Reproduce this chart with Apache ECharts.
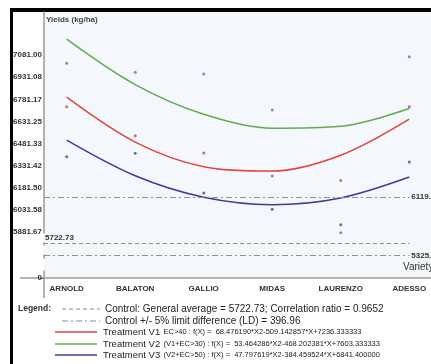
<!DOCTYPE html>
<html>
<head>
<meta charset="utf-8">
<script src="https://cdn.jsdelivr.net/npm/echarts@6.0.0/dist/echarts.min.js"></script>
<style>
  html, body { margin: 0; padding: 0; background: #fff; }
  #chart { width: 431px; height: 364px; }
</style>
</head>
<body>
<div id="chart"></div>
<script>
// data
const categories = ['ARNOLD', 'BALATON', 'GALLIO', 'MIDAS', 'LAURENZO', 'ADESSO'];
const yTicks = [0, 5881.67, 6031.58, 6181.50, 6331.42, 6481.33, 6631.25, 6781.17, 6931.08, 7081.00];

// fitted curves (value at each variety)
const curveV1 = [6795.67, 6491.95, 6325.19, 6295.38, 6402.52, 6646.62];
const curveV2 = [7188.60, 6880.79, 6679.90, 6585.95, 6598.93, 6718.83];
const curveV3 = [6504.74, 6263.67, 6118.20, 6068.32, 6114.04, 6255.36];

// observed yields
const obsV1 = [6731, 6535, 6418, 6262, 6231, 6731];
const obsV2 = [7025, 6964, 6952, 6709, 5879, 7069];
const obsV3 = [6393, 6416, 6148, 6037, 5933, 6357];

const controlAvg = 5722.73;
const controlLimits = [6119.69, 5325.77];

const legendRows = [
  ['Control: General average = 5722.73; Correlation ratio = 0.9652', ''],
  ['Control +/- 5% limit difference (LD) = 396.96', ''],
  ['Treatment V1', 'EC>40 : f(X) =  68.476190*X2-509.142857*X+7236.333333'],
  ['Treatment V2', '(V1+EC>30) : f(X) =  53.464286*X2-468.202381*X+7603.333333'],
  ['Treatment V3', '(V2+EC>50) : f(X) =  47.797619*X2-384.459524*X+6841.400000']
];

const FONT = '"Liberation Sans", Arial, sans-serif';
const colV1 = '#e0453f', colV2 = '#62aa4c', colV3 = '#3a3d9c';
const gridX = 0.669;   // left edge of plot in x units

let toXY = (arr) => arr.map((v, i) => [i + 1, v]);
let lbl = (v) => v.toFixed(2);

var myChart = echarts.init(document.getElementById('chart'));

// legend drawn as graphic
let legendEls = [];
let rowY = [309, 321, 332, 344, 355];
let rowCol = ['#8a8a8a', '#8a8a8a', colV1, colV2, colV3];
let rowDash = [[4, 3], [6, 3, 2, 3], null, null, null];
legendRows.forEach((r, i) => {
    let x1 = i < 2 ? 62 : 55, x2 = i < 2 ? 100 : 97;
    legendEls.push({
        type: 'line', shape: {x1: x1, y1: rowY[i], x2: x2, y2: rowY[i]},
        style: {stroke: rowCol[i], lineWidth: i < 2 ? 1 : 1.5, lineDash: rowDash[i]}
    });
    legendEls.push({
        type: 'text', x: i < 2 ? 105 : 103, y: rowY[i],
        style: {
            text: r[1] ? '{a|' + r[0] + '} {b|' + r[1] + '}' : '{c|' + r[0] + '}',
            verticalAlign: 'middle',
            rich: {
                a: {fontSize: 9.5, fontFamily: FONT, fill: '#222'},
                b: {fontSize: 7.5, fontFamily: FONT, fill: '#222'},
                c: {fontSize: 10, fontFamily: FONT, fill: '#222'}
            }
        }
    });
});

let option = {
    animation: false,
    grid: {
        left: 44, top: 12, right: 0, bottom: 86,
        show: true, backgroundColor: '#f4f7fb', borderWidth: 0
    },
    xAxis: {
        type: 'value', min: gridX, max: 6.317,
        splitLine: {show: false},
        axisLine: {lineStyle: {color: '#9a9a9a', width: 1.5}},
        axisTick: {show: false},
        axisLabel: {
            customValues: [1, 2, 3, 4, 5, 6],
            formatter: (v) => categories[Math.round(v) - 1] || '',
            fontFamily: FONT, fontSize: 8, fontWeight: 'bold', color: '#333', margin: 7
        }
    },
    yAxis: {
        type: 'value', min: 0, max: 7372,
        breaks: [
            {start: 50, end: 5310, gap: 85},
            {start: 5335, end: 5715, gap: 66},
            {start: 5730, end: 5875, gap: 62}
        ],
        breakArea: {show: false},
        splitLine: {show: false},
        axisLine: {show: true, lineStyle: {color: '#9a9a9a', width: 1.5}},
        axisTick: {show: true, customValues: [0], length: 4, lineStyle: {color: '#777'}},
        axisLabel: {
            customValues: yTicks,
            formatter: (v) => v === 0 ? '0' : lbl(v),
            fontFamily: FONT, fontSize: 8, fontWeight: 'bold', color: '#333', margin: 2
        }
    },
    series: [
        {name: 'Treatment V1', type: 'line', data: toXY(curveV1), smooth: 0.33, symbol: 'none',
         lineStyle: {color: colV1, width: 1.5}},
        {name: 'Treatment V2', type: 'line', data: toXY(curveV2), smooth: 0.33, symbol: 'none',
         lineStyle: {color: colV2, width: 1.5}},
        {name: 'Treatment V3', type: 'line', data: toXY(curveV3), smooth: 0.33, symbol: 'none',
         lineStyle: {color: colV3, width: 1.5},
         markLine: {
             silent: true, symbol: ['none', 'none'],
             lineStyle: {color: '#8f8f8f', width: 1},
             label: {fontFamily: FONT, fontSize: 8, fontWeight: 'bold', color: '#333'},
             data: [
                 [{coord: [gridX, controlAvg], lineStyle: {type: [4, 3]},
                   label: {position: 'insideStartTop', distance: [1, 2], formatter: lbl(controlAvg)}},
                  {coord: [6, controlAvg]}],
                 [{coord: [gridX, controlLimits[0]], lineStyle: {type: [6, 3, 2, 3]},
                   label: {position: 'end', distance: 2, formatter: lbl(controlLimits[0])}},
                  {coord: [6, controlLimits[0]]}],
                 [{coord: [gridX, controlLimits[1]], lineStyle: {type: [6, 3, 2, 3]},
                   label: {position: 'end', distance: 2, padding: [4, 0, 0, 0], formatter: lbl(controlLimits[1])}},
                  {coord: [6, controlLimits[1]]}]
             ]
         }},
        {name: 'obs V1', type: 'scatter', data: toXY(obsV1), symbolSize: 3,
         itemStyle: {color: '#b5514a'}},
        {name: 'obs V2', type: 'scatter', data: toXY(obsV2), symbolSize: 3,
         itemStyle: {color: '#6f7392'}},
        {name: 'obs V3', type: 'scatter', data: toXY(obsV3), symbolSize: 3,
         itemStyle: {color: '#3f4a8a'}}
    ],
    graphic: [
        // frame
        {type: 'rect', shape: {x: 10, y: 8, width: 421, height: 4}, style: {fill: '#000'}},
        {type: 'rect', shape: {x: 10, y: 8, width: 3, height: 356}, style: {fill: '#000'}},
        // axis overhangs
        {type: 'line', shape: {x1: 20, y1: 278, x2: 44, y2: 278}, style: {stroke: '#9a9a9a', lineWidth: 1.5}},
        {type: 'line', shape: {x1: 44, y1: 278, x2: 44, y2: 298}, style: {stroke: '#9a9a9a', lineWidth: 1.5}},
        {type: 'text', x: 46, y: 20, style: {text: 'Yields (kg/ha)', fontFamily: FONT, fontSize: 8,
            fontWeight: 'bold', fill: '#444', verticalAlign: 'middle'}},
        {type: 'text', x: 403, y: 267, style: {text: 'Variety', fontFamily: FONT, fontSize: 10,
            fill: '#333', verticalAlign: 'middle'}},
        {type: 'text', x: 18, y: 309, style: {text: 'Legend:', fontFamily: FONT, fontSize: 8.5,
            fontWeight: 'bold', fill: '#333', verticalAlign: 'middle'}}
    ].concat(legendEls)
};

myChart.setOption(option);
</script>
</body>
</html>
